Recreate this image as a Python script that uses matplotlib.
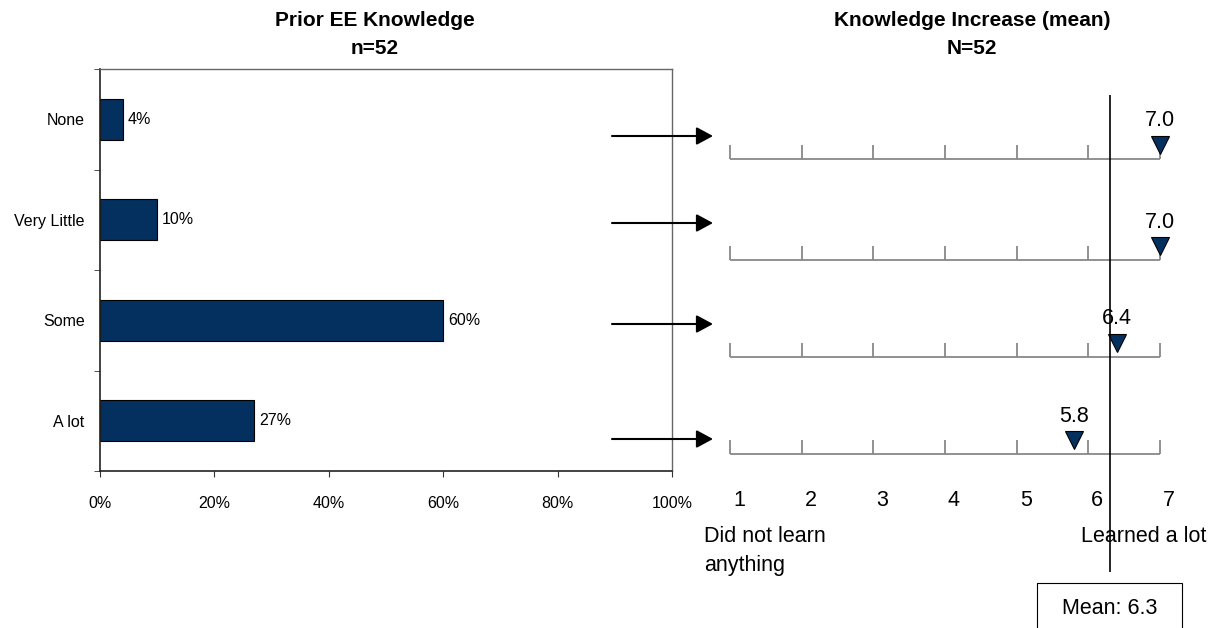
import matplotlib
matplotlib.use('Agg')
import matplotlib.pyplot as plt
from matplotlib.patches import Rectangle
from matplotlib.transforms import offset_copy

# ---- data ----
categories = ['None', 'Very Little', 'Some', 'A lot']
prior_pct = [4, 10, 60, 27]
x_ticks = [0, 20, 40, 60, 80, 100]
x_tick_labels = ['0%', '20%', '40%', '60%', '80%', '100%']
scale_points = [1, 2, 3, 4, 5, 6, 7]
increase_means = [7.0, 7.0, 6.4, 5.8]
overall_mean = 6.3
n_prior = 52
n_increase = 52
scale_low_label = ['Did not learn', 'anything']
scale_high_label = 'Learned a lot'

# ---- layout (pixels) ----
W, H = 1225, 628
row_y = [159, 260, 357, 454]
arrow_y = [136, 223, 324, 439]

plt.rcParams['font.family'] = ['Liberation Sans', 'DejaVu Sans']
NAVY = '#03305f'

fig = plt.figure(figsize=(W / 100, H / 100), dpi=100)


def box(l, t, r, b):
    return [l / W, 1 - b / H, (r - l) / W, (b - t) / H]


# ---- left bar chart ----
ax = fig.add_axes(box(100, 69, 672, 471))
ypos = list(range(len(categories)))
ax.barh(ypos, prior_pct, height=0.41, color=NAVY, edgecolor='black', linewidth=0.8)
ax.set_xlim(0, 100)
ax.set_ylim(len(categories) - 0.5, -0.5)
ax.set_yticks(ypos)
ax.set_yticklabels(categories, fontsize=11.5)
ax.tick_params(axis='y', which='major', length=0, pad=11)
ax.set_yticks([i - 0.5 for i in range(len(categories) + 1)], minor=True)
ax.tick_params(axis='y', which='minor', length=4, direction='out', color='#333333')
ax.set_xticks(x_ticks)
ax.set_xticklabels(x_tick_labels, fontsize=11.5)
ax.tick_params(axis='x', length=4, pad=14, color='#333333')
for s in ['left', 'bottom']:
    ax.spines[s].set_color('#222222')
    ax.spines[s].set_linewidth(1.2)
for s in ['top', 'right']:
    ax.spines[s].set_color('#666666')
    ax.spines[s].set_linewidth(1.0)
for yi, v in zip(ypos, prior_pct):
    ax.text(v + 0.8, yi, f'{v}%', va='center', ha='left', fontsize=11.5)

# ---- overlay (pixel coords) ----
ov = fig.add_axes([0, 0, 1, 1], zorder=5)
ov.set_xlim(0, W)
ov.set_ylim(H, 0)
ov.axis('off')
ov.patch.set_alpha(0)
ov.text(375, 20, 'Prior EE Knowledge', ha='center', va='center', fontsize=15, fontweight='bold')
ov.text(375, 48, f'n={n_prior}', ha='center', va='center', fontsize=15, fontweight='bold')
ov.text(972, 20, 'Knowledge Increase (mean)', ha='center', va='center', fontsize=15, fontweight='bold')
ov.text(972, 48, f'N={n_increase}', ha='center', va='center', fontsize=15, fontweight='bold')
for ay in arrow_y:
    ov.annotate('', xy=(713, ay), xytext=(612, ay),
                arrowprops=dict(arrowstyle='-|>,head_length=1.0,head_width=0.54',
                                color='black', lw=1.5, mutation_scale=10,
                                shrinkA=0, shrinkB=0))
ov.text(704, 537, scale_low_label[0], ha='left', va='center', fontsize=15.5)
ov.text(704, 565, scale_low_label[1], ha='left', va='center', fontsize=15.5)
ov.text(1081, 537, scale_high_label, ha='left', va='center', fontsize=15.5)

# ---- right scale chart ----
ax2 = fig.add_axes(box(730, 0, 1160, 628), zorder=6)
ax2.set_xlim(scale_points[0], scale_points[-1])
ax2.set_ylim(H, 0)
ax2.axis('off')
ax2.patch.set_alpha(0)
for ly, m in zip(row_y, increase_means):
    ax2.plot([scale_points[0], scale_points[-1]], [ly, ly], color='#888888', lw=1.3,
             clip_on=False, solid_capstyle='butt')
    ax2.vlines(scale_points, ly - 14, ly, color='#888888', lw=1.3, clip_on=False)
    ax2.plot([m], [ly - 14], marker='v', ms=13, mfc=NAVY, mec='black', mew=0.8,
             clip_on=False, zorder=5)
    ax2.text(m, ly - 38, f'{m:.1f}', ha='center', va='center', fontsize=15.5)

num_tr = offset_copy(ax2.transData, fig=fig, x=9, y=0, units='dots')
for p in scale_points:
    ax2.text(p, 500, str(p), ha='center', va='center', fontsize=15.5, transform=num_tr)

ax2.vlines(overall_mean, 95, 572, color='black', lw=1.2, zorder=6)
ax2.add_patch(Rectangle((overall_mean - 1.01, 583), 2.02, 60, fill=False,
                        edgecolor='black', lw=0.8, clip_on=False))
ax2.text(overall_mean, 608, f'Mean: {overall_mean}', ha='center', va='center', fontsize=15.5)

fig.savefig('out.png', dpi=100)
